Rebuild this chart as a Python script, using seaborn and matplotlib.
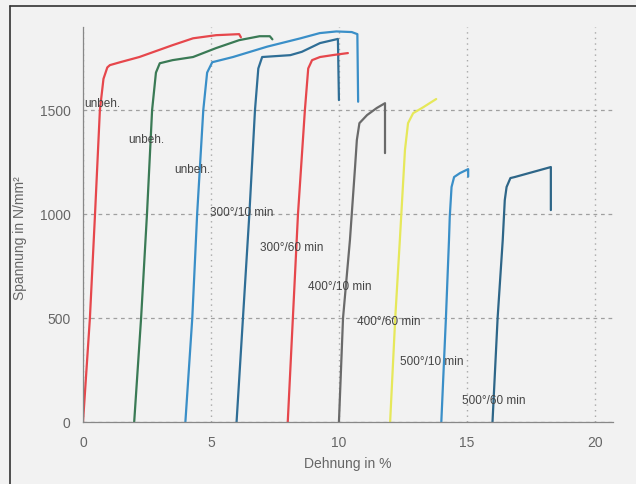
import matplotlib
matplotlib.use("Agg")
import matplotlib.pyplot as plt
from matplotlib.lines import Line2D
from matplotlib.ticker import MultipleLocator
import seaborn as sns
import pandas as pd

# ---- data (strain in %, stress in N/mm²) ----
c1_x = [0.0, 0.27, 0.47, 0.66, 0.8, 0.95, 1.05, 1.45, 2.2, 3.5, 4.3, 5.2, 6.1, 6.17]
c1_y = [0, 500, 1000, 1500, 1650, 1705, 1716, 1730, 1755, 1812, 1845, 1860, 1865, 1850]
c2_x = [2.0, 2.27, 2.5, 2.7, 2.85, 3.0, 3.5, 4.3, 5.2, 6.1, 6.9, 7.3, 7.4]
c2_y = [0, 500, 1000, 1500, 1680, 1725, 1740, 1755, 1798, 1836, 1855, 1855, 1840]
c3_x = [4.0, 4.27, 4.46, 4.7, 4.85, 5.05, 5.86, 7.2, 8.5, 9.25, 9.9, 10.5, 10.72, 10.75]
c3_y = [0, 500, 1000, 1500, 1680, 1730, 1755, 1805, 1845, 1870, 1878, 1875, 1865, 1540]
c4_x = [6.0, 6.25, 6.5, 6.72, 6.85, 7.0, 8.1, 8.55, 9.26, 9.96, 10.0]
c4_y = [0, 500, 1000, 1500, 1700, 1755, 1764, 1780, 1822, 1842, 1548]
c5_x = [8.0, 8.2, 8.4, 8.67, 8.8, 8.95, 9.26, 9.8, 10.35]
c5_y = [0, 500, 1000, 1500, 1700, 1740, 1755, 1765, 1774]
c6_x = [10.0, 10.16, 10.43, 10.63, 10.7, 10.8, 11.1, 11.48, 11.8, 11.8]
c6_y = [0, 500, 875, 1226, 1356, 1437, 1476, 1510, 1533, 1293]
c7_x = [12.0, 12.2, 12.38, 12.58, 12.7, 12.9, 13.3, 13.8]
c7_y = [0, 500, 875, 1308, 1437, 1485, 1514, 1553]
c8_x = [14.0, 14.18, 14.3, 14.33, 14.4, 14.5, 14.73, 15.05, 15.05]
c8_y = [0, 500, 875, 986, 1130, 1178, 1197, 1216, 1180]
c9_x = [16.0, 16.2, 16.4, 16.48, 16.55, 16.7, 16.87, 18.28, 18.28]
c9_y = [0, 500, 875, 1067, 1130, 1173, 1178, 1226, 1019]

curve_x = [c1_x, c2_x, c3_x, c4_x, c5_x, c6_x, c7_x, c8_x, c9_x]
curve_y = [c1_y, c2_y, c3_y, c4_y, c5_y, c6_y, c7_y, c8_y, c9_y]
curve_ids = ["k1", "k2", "k3", "k4", "k5", "k6", "k7", "k8", "k9"]
curve_colors = ["#e6474c", "#3a7a55", "#3a8fc8", "#2f6e96", "#e6474c",
                "#6a6a6a", "#e6e85a", "#3a8fc8", "#2e6688"]

label_texts = ["unbeh.", "unbeh.", "unbeh.", "300°/10 min", "300°/60 min",
               "400°/10 min", "400°/60 min", "500°/10 min", "500°/60 min"]
label_x = [0.05, 1.75, 3.55, 4.95, 6.9, 8.8, 10.7, 12.4, 14.8]
label_y = [1530, 1355, 1212, 1005, 836, 650, 481, 288, 101]

x_major = [0, 5, 10, 15, 20]
y_major = [0, 500, 1000, 1500]

# ---- build table ----
rows = []
for cid, xs, ys in zip(curve_ids, curve_x, curve_y):
    for i, (xv, yv) in enumerate(zip(xs, ys)):
        rows.append({"curve": cid, "order": i, "Dehnung": xv, "Spannung": yv})
df = pd.DataFrame(rows)

sns.set_style("white")
plt.rcParams["font.family"] = ["Liberation Sans", "DejaVu Sans"]

bg = "#f2f2f2"
fig = plt.figure(figsize=(6.36, 4.84), dpi=100, facecolor=bg)
ax = fig.add_axes([0.1305, 0.128, 0.833, 0.8165])
ax.set_facecolor(bg)

sns.lineplot(data=df, x="Dehnung", y="Spannung", hue="curve",
             sort=False, estimator=None, palette=dict(zip(curve_ids, curve_colors)),
             linewidth=1.6, legend=False, ax=ax)

ax.set_xlim(0, 20.7)
ax.set_ylim(0, 1900)
ax.set_xticks(x_major)
ax.set_yticks(y_major)
ax.xaxis.set_minor_locator(MultipleLocator(1))
ax.yaxis.set_minor_locator(MultipleLocator(100))
ax.tick_params(axis="both", which="major", direction="inout", length=8,
               width=0.8, color="#888888", labelsize=10, labelcolor="#666666", pad=6)
ax.tick_params(axis="both", which="minor", direction="inout", length=6,
               width=0.8, color="#888888")
ax.tick_params(axis="y", which="major", pad=5)

for s in ["top", "right"]:
    ax.spines[s].set_visible(False)
for s in ["left", "bottom"]:
    ax.spines[s].set_color("#888888")
    ax.spines[s].set_linewidth(0.9)

ax.grid(axis="y", which="major", linestyle=(0, (3, 3)), color="#a0a0a0", linewidth=0.9)
ax.grid(axis="x", which="major", linestyle=(0, (1, 3)), color="#a8a8a8", linewidth=1.0)
ax.set_axisbelow(True)

ax.set_xlabel("Dehnung in %", fontsize=10, color="#666666", labelpad=5)
ax.set_ylabel("Spannung in N/mm²", fontsize=10, color="#666666")
ax.yaxis.set_label_coords(-0.106, 0.466)

for t, xv, yv in zip(label_texts, label_x, label_y):
    ax.text(xv, yv, t, fontsize=8.5, color="#444444", ha="left", va="center")

# figure frame (left and top)
fig.add_artist(Line2D([10 / 636, 10 / 636], [0, 1 - 5.5 / 484], color="#333333",
                      linewidth=1.2, transform=fig.transFigure))
fig.add_artist(Line2D([10 / 636, 1], [1 - 5.5 / 484, 1 - 5.5 / 484], color="#333333",
                      linewidth=1.2, transform=fig.transFigure))

fig.savefig("out.png", dpi=100, facecolor=bg)
